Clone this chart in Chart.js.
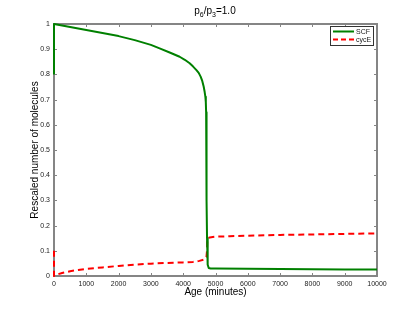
<!DOCTYPE html>
<html>
<head>
<meta charset="utf-8">
<script src="https://cdn.jsdelivr.net/npm/chart.js@4/dist/chart.umd.min.js"></script>
<style>
html,body{margin:0;padding:0;background:#fff;}
#wrap{width:415px;height:312px;position:relative;}
</style>
</head>
<body>
<div id="wrap"><canvas id="c" width="415" height="312"></canvas></div>
<script>
// ---- data ----
const titleParts = [["p",0],["6",1],["/p",0],["3",1],["=1.0",0]];
const xAxisTitle = "Age (minutes)";
const yAxisTitle = "Rescaled number of molecules";
const seriesNames = ["SCF", "cycE"];

const scfAge   = [0, 0, 500, 1000, 1500, 2000, 2500, 3000, 3270, 3600, 3890, 4050, 4200, 4300, 4410, 4480, 4540, 4590, 4635, 4665, 4687, 4700, 4710, 4718, 4728, 4738, 4750, 4765, 4790, 4850, 5000, 6000, 7000, 8000, 9000, 10000];
const scfValue = [0.8, 1.0, 0.988, 0.976, 0.964, 0.952, 0.936, 0.917, 0.903, 0.886, 0.870, 0.858, 0.844, 0.832, 0.817, 0.806, 0.791, 0.774, 0.751, 0.73, 0.711, 0.69, 0.65, 0.5, 0.3, 0.15, 0.08, 0.045, 0.032, 0.03, 0.03, 0.029, 0.028, 0.027, 0.026, 0.026];

const cycEAge   = [0, 0, 100, 250, 500, 750, 1000, 1500, 2000, 2500, 3000, 3500, 4000, 4300, 4500, 4666, 4720, 4737, 4745, 4760, 4820, 5000, 5440, 6000, 7000, 8000, 9000, 10000];
const cycEValue = [0.1, 0, 0.006, 0.012, 0.019, 0.024, 0.028, 0.034, 0.04, 0.045, 0.049, 0.052, 0.054, 0.056, 0.06, 0.066, 0.075, 0.1, 0.145, 0.15, 0.153, 0.156, 0.158, 0.16, 0.163, 0.165, 0.167, 0.169];

const xTicks = [0,1000,2000,3000,4000,5000,6000,7000,8000,9000,10000];
const yTicks = [0,0.1,0.2,0.3,0.4,0.5,0.6,0.7,0.8,0.9,1];

const FONT = "'Liberation Sans', Arial, Helvetica, sans-serif";
const AXIS_COLOR = "#858585";

const toPts = (xs, ys) => xs.map((x, i) => ({x: x, y: ys[i]}));

const boxPlugin = {
  id: 'box',
  beforeDatasetsDraw(chart) {
    const {ctx, chartArea: a, scales} = chart;
    ctx.save();
    ctx.strokeStyle = AXIS_COLOR;
    ctx.lineWidth = 1;
    const tl = 3;
    ctx.beginPath();
    xTicks.forEach(v => {
      const px = Math.round(scales.x.getPixelForValue(v)) + 0.5;
      ctx.moveTo(px, a.bottom); ctx.lineTo(px, a.bottom - tl);
      ctx.moveTo(px, a.top); ctx.lineTo(px, a.top + tl);
    });
    yTicks.forEach(v => {
      const py = Math.round(scales.y.getPixelForValue(v)) + 0.5;
      ctx.moveTo(a.left, py); ctx.lineTo(a.left + tl, py);
      ctx.moveTo(a.right, py); ctx.lineTo(a.right - tl, py);
    });
    ctx.stroke();
    ctx.lineWidth = 2;
    ctx.strokeRect(a.left, a.top, a.right - a.left, a.bottom - a.top);
    ctx.restore();
  },
  afterDraw(chart) {
    const {ctx} = chart;
    ctx.save();
    const big = "10px " + FONT, small = "7px " + FONT;
    let w = 0;
    titleParts.forEach(([t, s]) => { ctx.font = s ? small : big; w += ctx.measureText(t).width; });
    let x = 215 - w / 2;
    const base = 14;
    ctx.fillStyle = "#000";
    ctx.textBaseline = "alphabetic";
    titleParts.forEach(([t, s]) => {
      ctx.font = s ? small : big;
      ctx.fillText(t, x, s ? base + 2.5 : base);
      x += ctx.measureText(t).width;
    });
    const lx = 330, ly = 26, lw = 43, lh = 19;
    ctx.fillStyle = "#fff";
    ctx.fillRect(lx, ly, lw, lh);
    ctx.strokeStyle = "#333";
    ctx.lineWidth = 1;
    ctx.strokeRect(lx + 0.5, ly + 0.5, lw, lh);
    ctx.font = "7px " + FONT;
    ctx.textBaseline = "middle";
    chart.data.datasets.forEach((ds, i) => {
      const yy = ly + 5.5 + i * 8;
      ctx.strokeStyle = ds.borderColor;
      ctx.lineWidth = 2;
      ctx.setLineDash(ds.borderDash ? [5, 3] : []);
      ctx.beginPath(); ctx.moveTo(lx + 3, yy); ctx.lineTo(lx + 24, yy); ctx.stroke();
      ctx.setLineDash([]);
      ctx.fillStyle = "#222";
      ctx.fillText(ds.label, lx + 26, yy + 0.5);
    });
    ctx.restore();
  }
};

new Chart(document.getElementById('c'), {
  type: 'line',
  data: {
    datasets: [
      {label: seriesNames[0], data: toPts(scfAge, scfValue), borderColor: '#008000', borderWidth: 2, pointRadius: 0, tension: 0, fill: false, clip: 3, borderJoinStyle: 'round'},
      {label: seriesNames[1], data: toPts(cycEAge, cycEValue), borderColor: '#ff0000', borderWidth: 2, borderDash: [6, 4], pointRadius: 0, tension: 0, fill: false, clip: 3, borderJoinStyle: 'round'}
    ]
  },
  options: {
    responsive: false,
    animation: false,
    events: [],
    layout: {padding: {top: 24, right: 38, left: 0, bottom: 0}},
    plugins: {legend: {display: false}, title: {display: false}, tooltip: {enabled: false}},
    scales: {
      x: {
        type: 'linear', min: 0, max: 10000,
        afterBuildTicks: s => { s.ticks = xTicks.map(v => ({value: v})); },
        afterFit: s => { s.height = 36; },
        grid: {display: false, drawTicks: false},
        border: {display: false},
        ticks: {font: {family: FONT, size: 7}, color: '#222', padding: 4, maxRotation: 0, autoSkip: false,
                callback: v => String(v)},
        title: {display: true, text: xAxisTitle, font: {family: FONT, size: 10}, color: '#000', padding: {top: 0, bottom: 14}}
      },
      y: {
        type: 'linear', min: 0, max: 1,
        afterBuildTicks: s => { s.ticks = yTicks.map(v => ({value: v})); },
        afterFit: s => { s.width = 54; },
        grid: {display: false, drawTicks: false},
        border: {display: false},
        ticks: {font: {family: FONT, size: 7}, color: '#222', padding: 4, autoSkip: false,
                callback: v => String(v)},
        title: {display: true, text: yAxisTitle, font: {family: FONT, size: 10}, color: '#000', padding: {top: 29, bottom: 0}}
      }
    }
  },
  plugins: [boxPlugin]
});
</script>
</body>
</html>
